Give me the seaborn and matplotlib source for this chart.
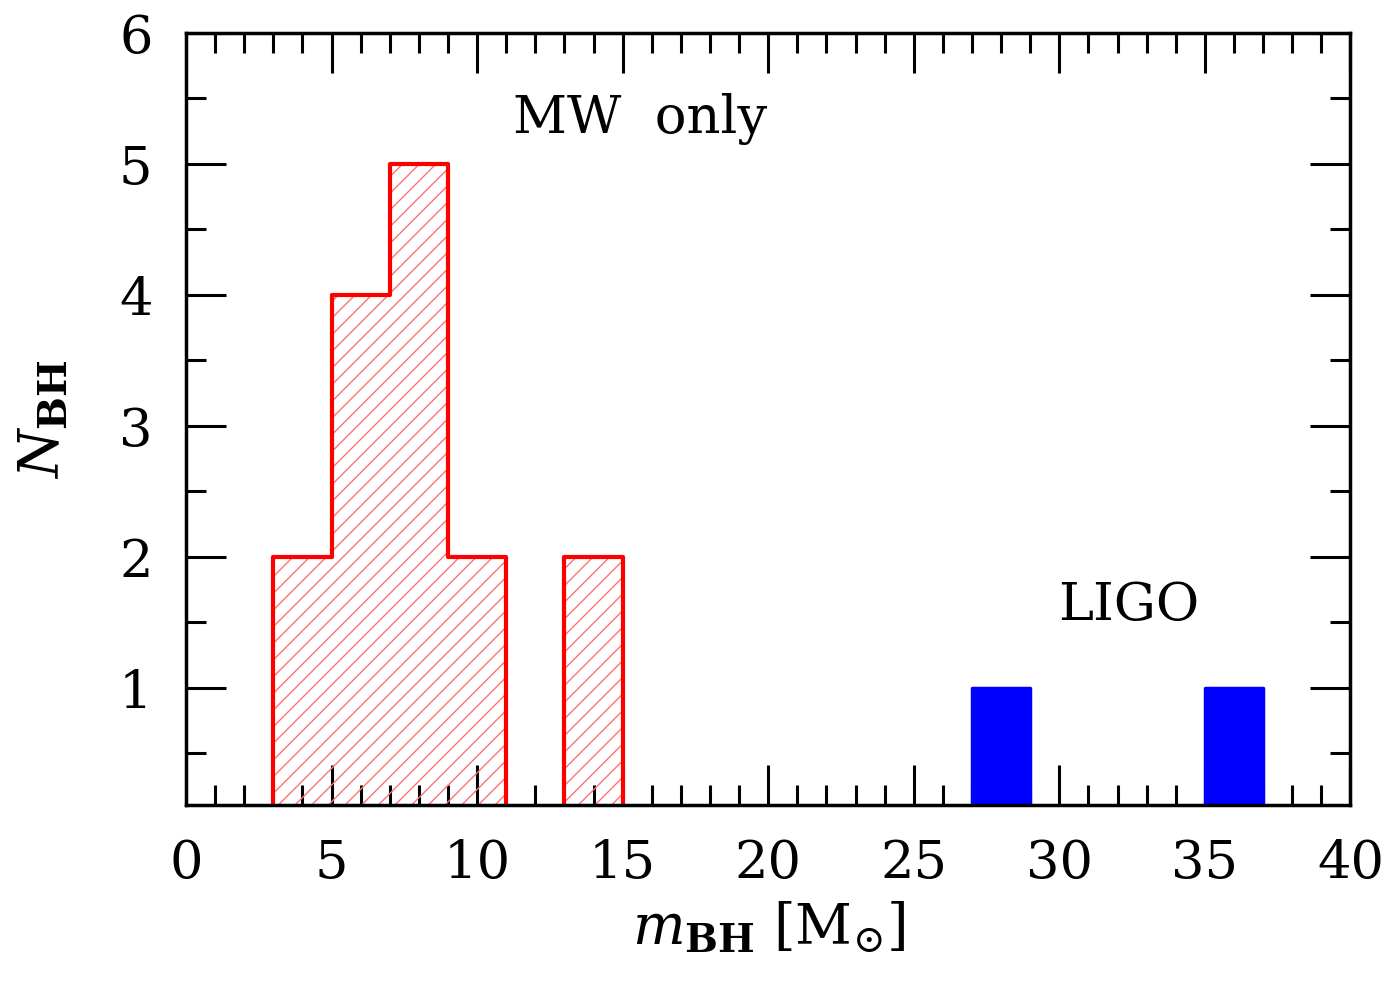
import numpy as np
import pandas as pd
import matplotlib
matplotlib.use("Agg")
import matplotlib.pyplot as plt
import seaborn as sns
from matplotlib.ticker import MultipleLocator

# Data: histogram bin edges (width 2) and counts
mw_edges = [3, 5, 7, 9, 11, 13, 15]
mw_counts = [2, 4, 5, 2, 0, 2]
ligo_edges = [27, 29, 31, 33, 35, 37, 39, 41]
ligo_counts = [1, 0, 0, 0, 1, 0, 0]

sns.set_theme(style="white")
plt.rcParams['font.family'] = ['DejaVu Serif']
plt.rcParams['mathtext.fontset'] = 'dejavuserif'
plt.rcParams['hatch.linewidth'] = 1.0
plt.rcParams['text.color'] = 'black'
plt.rcParams['axes.labelcolor'] = 'black'
plt.rcParams['xtick.color'] = 'black'
plt.rcParams['ytick.color'] = 'black'

fig = plt.figure(figsize=(13.98, 9.84), dpi=100)
ax = fig.add_axes([0.133, 0.182, 0.833, 0.7845])

mw_centers = [(a + b) / 2 for a, b in zip(mw_edges[:-1], mw_edges[1:])]
ligo_centers = [(a + b) / 2 for a, b in zip(ligo_edges[:-1], ligo_edges[1:])]
df_mw = pd.DataFrame({"m": mw_centers, "w": mw_counts})
df_ligo = pd.DataFrame({"m": ligo_centers, "w": ligo_counts})

# hatched fill for MW
sns.histplot(data=df_mw, x="m", weights="w", bins=mw_edges, element="step",
             fill=True, ax=ax, color="red", alpha=1.0, linewidth=0)
coll = ax.collections[-1]
coll.set_facecolor("none")
coll.set_edgecolor((1.0, 0.45, 0.45))
coll.set_linewidth(0)
coll.set_hatch("//")

# thick outline for MW (polygon outline incl. vertical edges)
sns.histplot(data=df_mw, x="m", weights="w", bins=mw_edges, element="step",
             fill=True, ax=ax, color="red", alpha=1.0, linewidth=3.0)
coll2 = ax.collections[-1]
coll2.set_facecolor("none")
coll2.set_edgecolor("red")
coll2.set_linewidth(3.0)

# LIGO filled
sns.histplot(data=df_ligo, x="m", weights="w", bins=ligo_edges, element="step",
             fill=True, ax=ax, color="blue", alpha=1.0, linewidth=2.5,
             edgecolor="blue")

ax.set_xlim(0, 40)
ax.set_ylim(0.107, 6)

ax.xaxis.set_major_locator(MultipleLocator(5))
ax.xaxis.set_minor_locator(MultipleLocator(1))
ax.yaxis.set_major_locator(MultipleLocator(1))
ax.yaxis.set_minor_locator(MultipleLocator(0.5))
ax.tick_params(which="both", direction="in", top=True, right=True,
               bottom=True, left=True, width=2.2, color="black")
ax.tick_params(which="major", length=29, labelsize=38, pad=24)
ax.tick_params(which="minor", length=14.5)
for s in ax.spines.values():
    s.set_linewidth(2.5)
    s.set_color("black")
    s.set_zorder(5)

ax.set_xlabel(r"$m_{\mathbf{BH}}\ [{\rm M}_{\odot}]$", fontsize=40, labelpad=8)
ax.set_ylabel(r"$N_{\mathbf{BH}}$", fontsize=40, labelpad=34)

ax.text(15.6, 5.34, "MW  only", fontsize=38,
        ha="center", va="center")
ax.text(32.4, 1.63, "LIGO", fontsize=38, ha="center", va="center")

fig.savefig("out.png", dpi=100)
